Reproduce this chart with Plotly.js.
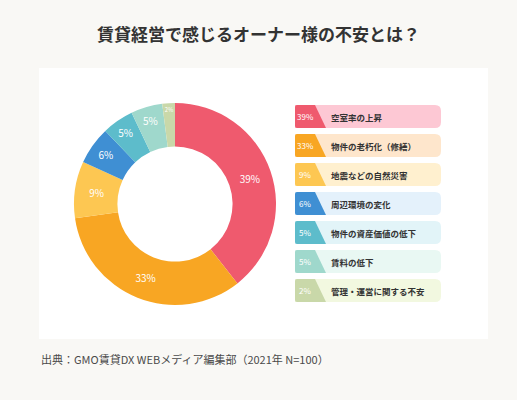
<!DOCTYPE html>
<html>
<head>
<meta charset="utf-8">
<script src="https://cdn.plot.ly/plotly-3.0.1.min.js"></script>
<style>
html,body{margin:0;padding:0;background:#f9f8f5;}
#chart{width:517px;height:400px;}
</style>
</head>
<body>
<div id="chart"></div>
<script>
var categories = ["空室率の上昇","物件の老朽化（修繕）","地震などの自然災害","周辺環境の変化","物件の資産価値の低下","賃料の低下","管理・運営に関する不安"];
var values = [39, 33, 9, 6, 5, 5, 2];
var percentLabels = ["39%","33%","9%","6%","5%","5%","2%"];
var colors = ["#ef5a6e","#f8a623","#fdc752","#3f8fd3","#5dbccb","#9fd8cc","#c9d8a9"];
var lightColors = ["#fdc8d4","#fee6cc","#fff0cf","#e4f1fb","#e2f4f8","#e9f8f3","#f2f8e0"];
var titleText = "賃貸経営で感じるオーナー様の不安とは？";
var sourceText = "出典：GMO賃貸DX WEBメディア編集部（2021年 N=100）";

(function(){
var W = 517, H = 400;
function px(x){ return x / W; }
function py(y){ return 1 - y / H; }

var font = "'Noto Sans CJK JP', 'Noto Sans', sans-serif";

var shapes = [];
var annotations = [];

shapes.push({type:'rect', xref:'paper', yref:'paper', x0:px(39), x1:px(488), y0:py(68), y1:py(339),
  fillcolor:'#ffffff', line:{width:0}, layer:'below'});

for (var i = 0; i < categories.length; i++) {
  var rowTop = 105 + 29 * i, rowBot = rowTop + 23, mid = (rowTop + rowBot) / 2;
  var l = 295, r = 441, rr = 6;
  var p = 'M ' + px(l) + ' ' + py(rowTop) +
          ' L ' + px(r - rr) + ' ' + py(rowTop) +
          ' Q ' + px(r) + ' ' + py(rowTop) + ' ' + px(r) + ' ' + py(rowTop + rr) +
          ' L ' + px(r) + ' ' + py(rowBot - rr) +
          ' Q ' + px(r) + ' ' + py(rowBot) + ' ' + px(r - rr) + ' ' + py(rowBot) +
          ' L ' + px(l) + ' ' + py(rowBot) + ' Z';
  shapes.push({type:'path', xref:'paper', yref:'paper', path:p, fillcolor:lightColors[i], line:{width:0}, layer:'above'});
  var t = 'M ' + px(l + 2) + ' ' + py(rowTop) +
          ' L ' + px(315) + ' ' + py(rowTop) +
          ' L ' + px(326) + ' ' + py(rowBot) +
          ' L ' + px(l + 2) + ' ' + py(rowBot) +
          ' Q ' + px(l) + ' ' + py(rowBot) + ' ' + px(l) + ' ' + py(rowBot - 2) +
          ' L ' + px(l) + ' ' + py(rowTop + 2) +
          ' Q ' + px(l) + ' ' + py(rowTop) + ' ' + px(l + 2) + ' ' + py(rowTop) + ' Z';
  shapes.push({type:'path', xref:'paper', yref:'paper', path:t, fillcolor:colors[i], line:{width:0}, layer:'above'});
  annotations.push({xref:'paper', yref:'paper', x:px(305), y:py(mid), text:percentLabels[i], showarrow:false,
    xanchor:'center', yanchor:'middle', font:{family:font, size:8, color:'#ffffff'}});
  annotations.push({xref:'paper', yref:'paper', x:px(329), y:py(mid), text:categories[i], showarrow:false,
    xanchor:'left', yanchor:'middle', font:{family:font, size:8.5, color:'#333333', weight:'bold'}});
}

annotations.push({xref:'paper', yref:'paper', x:0.5, y:py(33), text:titleText, showarrow:false,
  xanchor:'center', yanchor:'middle', font:{family:font, size:17, color:'#333333', weight:'bold'}});
annotations.push({xref:'paper', yref:'paper', x:px(39), y:py(359), text:sourceText, showarrow:false,
  xanchor:'left', yanchor:'middle', font:{family:font, size:11, color:'#4a4a4a'}});

var trace = {
  type:'pie',
  values: values,
  labels: categories,
  text: percentLabels,
  textinfo:'text',
  textposition:'inside',
  insidetextorientation:'horizontal',
  hole:0.57,
  sort:false,
  direction:'clockwise',
  rotation:0,
  marker:{colors:colors, line:{width:0}},
  textfont:{family:font, size:10, color:'#ffffff'},
  domain:{x:[px(74), px(276)], y:[py(305), py(103)]},
  showlegend:false,
  hoverinfo:'none'
};

var layout = {
  width:W, height:H,
  margin:{l:0, r:0, t:0, b:0},
  paper_bgcolor:'#f9f8f5',
  plot_bgcolor:'rgba(0,0,0,0)',
  showlegend:false,
  shapes:shapes,
  annotations:annotations
};

Plotly.newPlot('chart', [trace], layout, {staticPlot:true, displayModeBar:false});
})();
</script>
</body>
</html>
